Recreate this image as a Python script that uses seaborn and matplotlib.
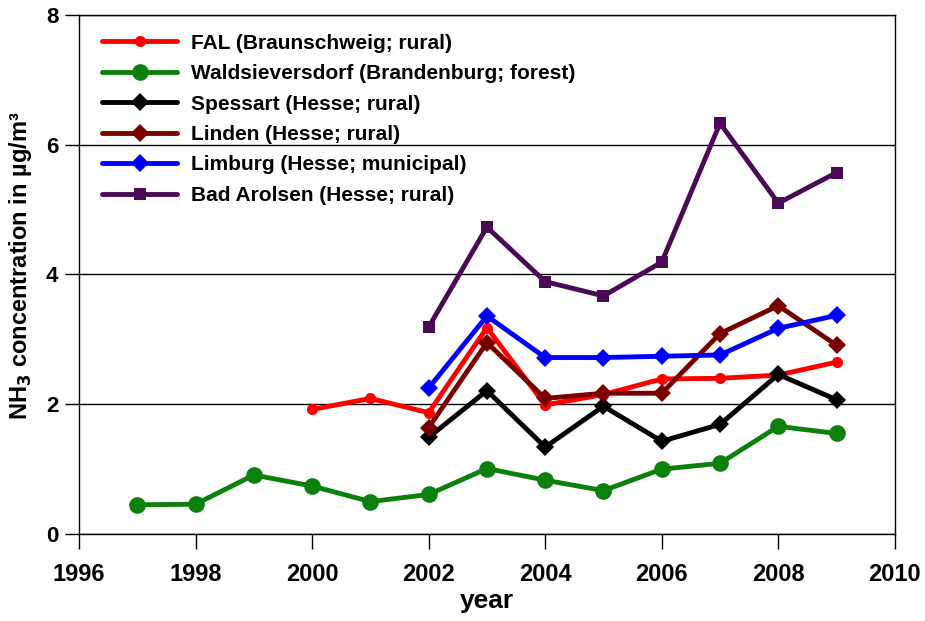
import seaborn as sns
import pandas as pd
import matplotlib.pyplot as plt

# station series (NH3 concentration in ug/m3)
fal_years = [2000, 2001, 2002, 2003, 2004, 2005, 2006, 2007, 2008, 2009]
fal_vals = [1.92, 2.09, 1.87, 3.18, 1.99, 2.15, 2.39, 2.40, 2.45, 2.65]

wald_years = [1997, 1998, 1999, 2000, 2001, 2002, 2003, 2004, 2005, 2006, 2007, 2008, 2009]
wald_vals = [0.45, 0.46, 0.91, 0.74, 0.50, 0.61, 1.01, 0.83, 0.67, 1.00, 1.09, 1.66, 1.55]

hesse_years = [2002, 2003, 2004, 2005, 2006, 2007, 2008, 2009]
spessart_vals = [1.49, 2.21, 1.34, 1.97, 1.43, 1.69, 2.46, 2.07]
linden_vals = [1.64, 2.95, 2.09, 2.17, 2.17, 3.09, 3.52, 2.91]
limburg_vals = [2.25, 3.36, 2.72, 2.72, 2.74, 2.76, 3.17, 3.37]
arolsen_vals = [3.19, 4.73, 3.89, 3.67, 4.19, 6.33, 5.10, 5.57]

labels = ["FAL (Braunschweig; rural)",
          "Waldsieversdorf (Brandenburg; forest)",
          "Spessart (Hesse; rural)",
          "Linden (Hesse; rural)",
          "Limburg (Hesse; municipal)",
          "Bad Arolsen (Hesse; rural)"]

series = [(fal_years, fal_vals), (wald_years, wald_vals),
          (hesse_years, spessart_vals), (hesse_years, linden_vals),
          (hesse_years, limburg_vals), (hesse_years, arolsen_vals)]

# build long-form table
frames = []
for lab, (yrs, vals) in zip(labels, series):
    frames.append(pd.DataFrame({"year": yrs, "conc": vals, "station": lab}))
df = pd.concat(frames, ignore_index=True)

colors = ["#ff0000", "#0b800b", "#000000", "#7a0000", "#0000ff", "#4b0a55"]
markers = ["o", "o", "D", "D", "D", "s"]
msizes = [8, 12, 9, 9, 9, 8]

sns.set_style("white")
plt.rcParams["font.family"] = ["Liberation Sans", "DejaVu Sans"]
plt.rcParams["font.weight"] = "bold"
plt.rcParams["mathtext.default"] = "bf"
plt.rcParams["text.color"] = "black"
plt.rcParams["axes.labelcolor"] = "black"
plt.rcParams["xtick.color"] = "black"
plt.rcParams["ytick.color"] = "black"

fig = plt.figure(figsize=(9.25, 6.21), dpi=100)
ax = fig.add_axes([0.0854, 0.140, 0.882, 0.836])

for lab, c, m, ms in zip(labels, colors, markers, msizes):
    sns.lineplot(data=df[df["station"] == lab], x="year", y="conc", ax=ax,
                 color=c, marker=m, markersize=ms, markeredgewidth=0,
                 linewidth=3.5, label=lab)

ax.set_xlim(1996, 2010)
ax.set_ylim(0, 8)
ax.set_xticks(range(1996, 2011, 2))
ax.set_yticks(range(0, 9, 2))

# horizontal gridlines only
ax.yaxis.grid(True, color="black", linewidth=1)
ax.xaxis.grid(False)
for s in ax.spines.values():
    s.set_color("black")
    s.set_linewidth(1)

ax.tick_params(axis="x", direction="out", length=11, width=1,
               labelsize=17, pad=10, bottom=True)
ax.tick_params(axis="y", direction="out", length=10, width=1,
               labelsize=16, pad=5, left=True)
for t in ax.get_xticklabels() + ax.get_yticklabels():
    t.set_fontweight("bold")

ax.set_xlabel("year", fontsize=19, fontweight="bold", labelpad=2)
ax.set_ylabel("NH$_3$ concentration in µg/m³", fontsize=17, fontweight="bold")
ax.yaxis.set_label_coords(-0.055, 0.516)

leg = ax.legend(loc="upper left", bbox_to_anchor=(0.018, 0.98), frameon=False,
                fontsize=15, handlelength=3.6, labelspacing=0.55, handletextpad=0.65,
                borderaxespad=0)
for t in leg.get_texts():
    t.set_fontweight("bold")

plt.savefig("out.png", dpi=100)
